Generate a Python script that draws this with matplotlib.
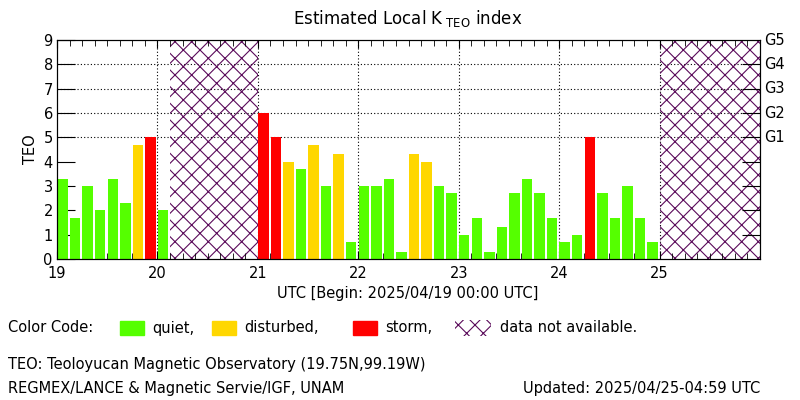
import numpy as np
import matplotlib.pyplot as plt
from matplotlib.patches import Rectangle

plt.rcParams['font.family'] = ['DejaVu Sans']
plt.rcParams['hatch.linewidth'] = 0.8

# 3-hour K_TEO values starting 2025/04/19 00:00 UTC (nan = no data)
nan = np.nan
start_day = 19
bin_days = 0.125
k_teo = [3.3, 1.7, 3.0, 2.0, 3.3, 2.3, 4.7, 5.0,
         2.0, nan, nan, nan, nan, nan, nan, nan,
         6.0, 5.0, 4.0, 3.7, 4.7, 3.0, 4.3, 0.7,
         3.0, 3.0, 3.3, 0.3, 4.3, 4.0, 3.0, 2.7,
         1.0, 1.7, 0.3, 1.3, 2.7, 3.3, 2.7, 1.7,
         0.7, 1.0, 5.0, 2.7, 1.7, 3.0, 1.7, 0.7,
         nan, nan, nan, nan, nan, nan, nan, nan]
day_ticks = [19, 20, 21, 22, 23, 24, 25]
g_levels = [5, 6, 7, 8, 9]
g_labels = ['G1', 'G2', 'G3', 'G4', 'G5']

green = '#55ff00'
yellow = '#ffd700'
red = '#ff0000'
purple = '#5a0a5a'

def k_color(k):
    if k >= 5:
        return red
    if k >= 4:
        return yellow
    return green

k = np.array(k_teo)
t = start_day + bin_days * np.arange(len(k))
ok = ~np.isnan(k)

fig = plt.figure(figsize=(8, 4), dpi=100)
ax = fig.add_axes([57 / 800, 1 - 259 / 400, 703 / 800, 219 / 400])

# grid
for d in day_ticks[1:]:
    ax.axvline(d, color='black', ls=(0, (1, 2)), lw=0.8, zorder=1)
for g in g_levels[:-1]:
    ax.axhline(g, color='black', ls=(0, (1, 2)), lw=0.8, zorder=1)

ax.bar(t[ok] + 0.003, k[ok], width=0.104, align='edge',
       color=[k_color(v) for v in k[ok]], zorder=2)

# missing data spans
i = 0
while i < len(k):
    if np.isnan(k[i]):
        j = i
        while j < len(k) and np.isnan(k[j]):
            j += 1
        ax.axvspan(t[i], t[j - 1] + bin_days, facecolor='none',
                   edgecolor=purple, hatch='xx', lw=0, zorder=1.5)
        i = j
    else:
        i += 1

ax.set_xlim(start_day, start_day + len(k) * bin_days)
ax.set_ylim(0, 9)
ax.set_xticks(day_ticks)
ax.set_xticklabels([str(d) for d in day_ticks])
ax.set_xticks(t, minor=True)
ax.set_yticks(range(10))
ax.tick_params(axis='x', which='major', direction='in', length=6, top=True,
               labelsize=10.5, pad=5)
ax.tick_params(axis='x', which='minor', direction='in', length=4, top=True)
ax.tick_params(axis='y', which='major', direction='in', length=13,
               labelsize=10.5, pad=3)
ax.set_ylabel('TEO', fontsize=10.5, labelpad=4)

ax2 = ax.twinx()
ax2.set_ylim(0, 9)
ax2.set_yticks(range(1, 9))
ax2.set_yticklabels([''] * 8)
ax2.tick_params(axis='y', direction='in', length=13)
for g, lab in zip(g_levels, g_labels):
    ax2.text(1.006, g, lab, transform=ax2.get_yaxis_transform(),
             va='center', ha='left', fontsize=10.5)

fig.text(0.51, 0.94, 'Estimated Local K$_{\\mathsf{\\ TEO}}$ index',
         ha='center', fontsize=12)
fig.text(0.51, 0.255, 'UTC [Begin: 2025/04/19 00:00 UTC]', ha='center',
         fontsize=10.5)

# color code row
y0 = 0.18
fig.text(8 / 800, y0, 'Color Code:', fontsize=10.5, va='center')
for x, c, lab in [(120, green, 'quiet,'), (212, yellow, 'disturbed,'),
                  (353, red, 'storm,')]:
    fig.patches.append(Rectangle((x / 800, y0 - 0.017), 24 / 800, 0.034,
                                 transform=fig.transFigure, color=c))
    fig.text((x + 32) / 800, y0, lab, fontsize=10.5, va='center')
fig.patches.append(Rectangle((455 / 800, y0 - 0.02), 36 / 800, 0.04,
                             transform=fig.transFigure, facecolor='none',
                             edgecolor=purple, hatch='xx', lw=0))
fig.text(500 / 800, y0, 'data not available.', fontsize=10.5, va='center')

fig.text(8 / 800, 0.088, 'TEO: Teoloyucan Magnetic Observatory (19.75N,99.19W)',
         fontsize=10.5, va='center')
fig.text(8 / 800, 0.03, 'REGMEX/LANCE & Magnetic Servie/IGF, UNAM',
         fontsize=10.5, va='center')
fig.text(760 / 800, 0.03, 'Updated: 2025/04/25-04:59 UTC',
         fontsize=10.5, va='center', ha='right')

fig.savefig('out.png', dpi=100)
